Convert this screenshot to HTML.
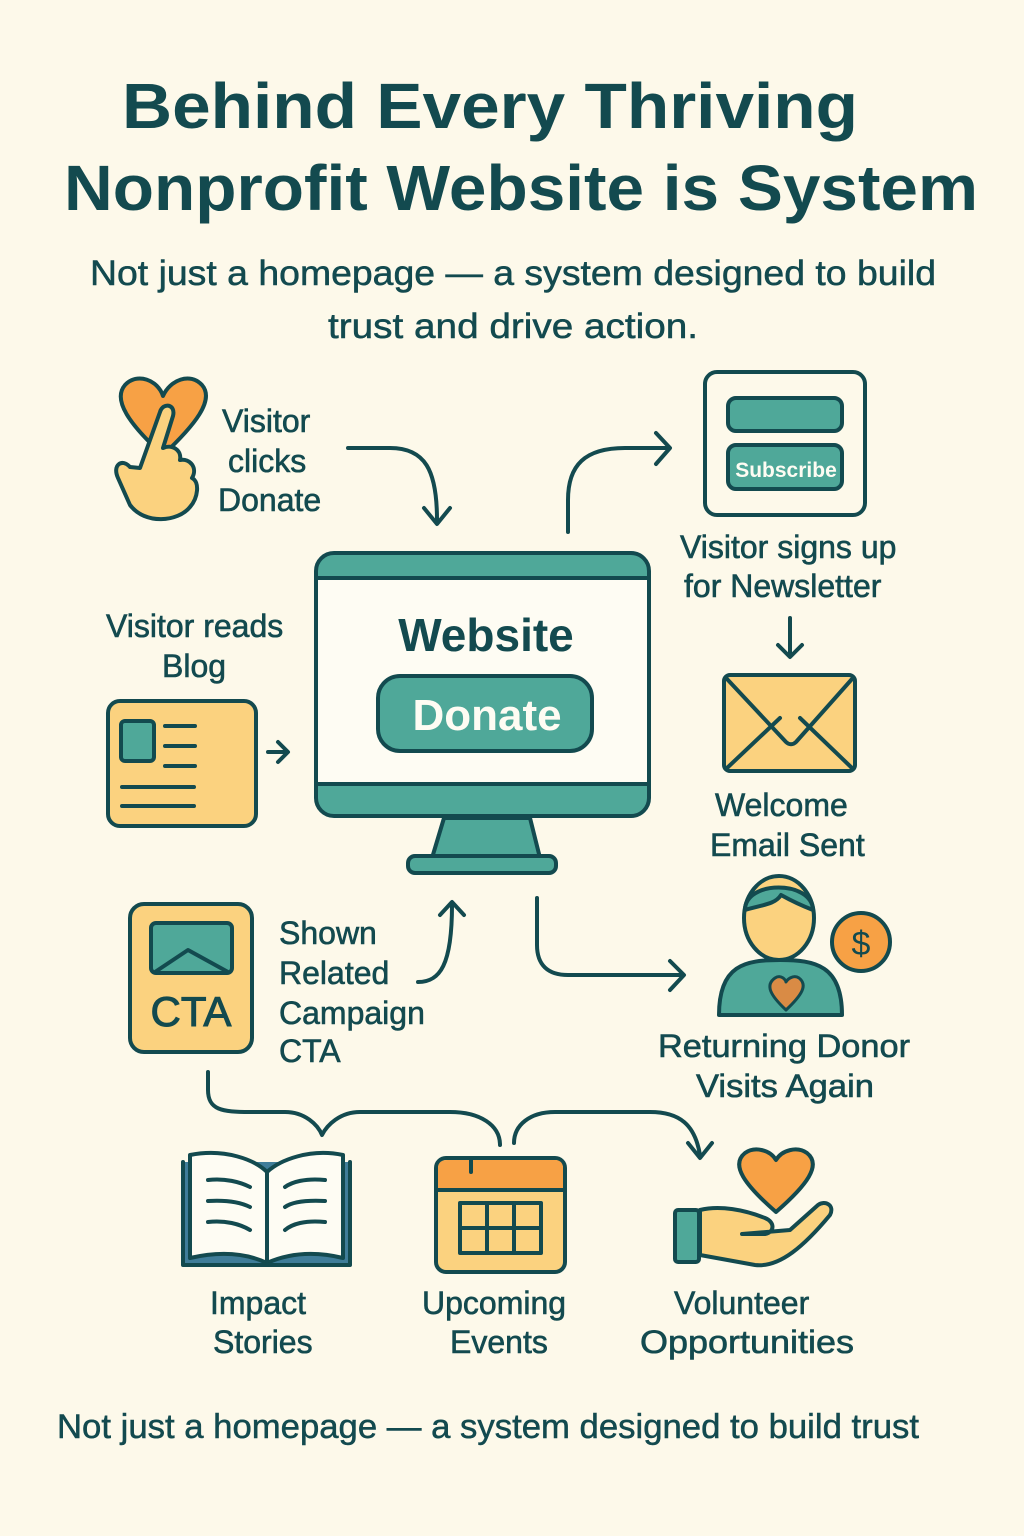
<!DOCTYPE html>
<html><head><meta charset="utf-8"><style>
html,body{margin:0;padding:0;background:#fdf9ea}
svg{display:block}
text{font-family:"Liberation Sans",sans-serif;fill:#134a4f}
</style></head><body>
<svg width="1024" height="1536" viewBox="0 0 1024 1536" xmlns="http://www.w3.org/2000/svg">
<rect width="1024" height="1536" fill="#fdf9ea"/>
<g font-weight="bold">
<text x="122" y="128" font-size="64" textLength="736" lengthAdjust="spacingAndGlyphs">Behind Every Thriving</text>
<text x="64" y="210" font-size="64" textLength="914" lengthAdjust="spacingAndGlyphs">Nonprofit Website is System</text>
</g>
<text x="90" y="285" font-size="35" textLength="846" lengthAdjust="spacingAndGlyphs" stroke="#134a4f" stroke-width="0.5">Not just a homepage — a system designed to build</text>
<text x="328" y="338" font-size="35" textLength="370" lengthAdjust="spacingAndGlyphs" stroke="#134a4f" stroke-width="0.5">trust and drive action.</text>

<g fill="none" stroke="#134a4f" stroke-width="4" stroke-linecap="round" stroke-linejoin="round">
<!-- hand heart -->
<path d="M163 455 C130 425 112 400 125 385 C137 372 158 380 163 396 C170 380 190 372 202 385 C215 400 195 425 163 455 Z" fill="#f7a145"/>
<path d="M140 468 L160 412 C163 402 176 404 173 416 L163 448 C172 444 182 450 180 460 C190 458 198 468 192 478 C200 482 198 498 190 507 C178 522 145 525 130 505 L118 478 C112 465 122 458 130 467 Z" fill="#fbd27f"/>
<!-- arrow 1 -->
<path d="M348 448 L390 448 C425 448 437 470 437 520 M424 508 L437 524 L450 508"/>
<!-- arrow up-right -->
<path d="M568 532 L568 500 C568 465 585 448 625 448 L668 448 M656 433 L670 448 L656 464"/>
<!-- subscribe box -->
<rect x="705" y="372" width="160" height="143" rx="12" fill="#fdf9ea"/>
<rect x="728" y="398" width="114" height="33" rx="8" fill="#4fa899"/>
<rect x="728" y="445" width="114" height="44" rx="8" fill="#4fa899"/>
<!-- arrow down to envelope -->
<path d="M790 618 L790 656 M778 645 L790 657 L802 645"/>
<!-- envelope -->
<rect x="724" y="675" width="131" height="96" rx="6" fill="#fbd27f"/>
<path d="M727 679 L786 742 C789 745 793 745 796 742 L852 679 M727 768 L780 718 M852 768 L800 718"/>
<!-- monitor -->
<rect x="316" y="553" width="333" height="263" rx="18" fill="#4fa899"/>
<rect x="316" y="578" width="333" height="206" fill="#fefcf3"/>
<path d="M322 578 L643 578 M322 784 L643 784"/>
<path d="M444 818 L530 818 L540 858 L432 858 Z" fill="#4fa899"/>
<rect x="408" y="856" width="148" height="17" rx="7" fill="#4fa899"/>
<rect x="378" y="676" width="214" height="75" rx="22" fill="#4fa899"/>
<!-- blog card -->
<rect x="108" y="701" width="148" height="125" rx="12" fill="#fbd27f"/>
<rect x="121" y="721" width="33" height="40" rx="4" fill="#4fa899"/>
<path d="M165 726 L195 726 M165 746 L195 746 M165 766 L195 766 M122 787 L194 787 M122 806 L194 806" stroke-width="4"/>
<path d="M210 752 L228 752 M220 742 L230 752 L220 762" transform="translate(58,0)"/>
<!-- CTA card -->
<rect x="130" y="904" width="122" height="148" rx="14" fill="#fbd27f"/>
<rect x="151" y="923" width="81" height="50" rx="5" fill="#4fa899"/>
<path d="M155 972 L188 950 L228 972"/>
<!-- arrow up from CTA -->
<path d="M418 982 C440 982 452 965 452 905 M440 915 L452 902 L464 915"/>
<!-- arrow to donor -->
<path d="M537 898 L537 945 C537 965 548 975 568 975 L682 975 M670 961 L684 975 L670 990"/>
<!-- donor -->
<path d="M719 1015 C719 965 745 960 780 960 C815 960 842 965 842 1015 Z" fill="#4fa899"/>
<ellipse cx="779" cy="918" rx="35" ry="42" fill="#fbd27f"/>
<path d="M745 910 C745 880 812 880 813 910 C800 905 790 900 781 895 C775 905 760 905 745 910 Z" fill="#4fa899"/>
<path d="M786 1010 C770 995 765 985 775 978 C781 974 786 980 786 982 C787 980 793 974 799 978 C808 985 802 995 786 1010 Z" fill="#d98b45" stroke-width="3"/>
<circle cx="861" cy="942" r="29" fill="#f7a145"/>
<!-- bottom connectors -->
<path d="M208 1072 L208 1090 C208 1110 222 1112 250 1112 L285 1112 C305 1112 318 1125 322 1135 C327 1125 340 1112 360 1112 L450 1112 C480 1112 500 1125 500 1145"/>
<path d="M514 1143 C514 1125 530 1112 555 1112 L650 1112 C680 1112 695 1125 700 1155 M688 1143 L700 1158 L712 1143"/>
<!-- book -->
<path d="M183 1162 L183 1265 L350 1265 L350 1162" fill="#3f7d99"/>
<path d="M190 1155 C225 1148 255 1160 267 1172 C280 1160 310 1148 343 1155 L343 1258 C310 1250 285 1255 267 1263 C250 1255 225 1250 190 1258 Z" fill="#fefcf3"/>
<path d="M267 1172 L267 1262"/>
<path d="M208 1180 C225 1178 240 1182 250 1187 M208 1201 C225 1200 240 1202 250 1207 M208 1222 C225 1220 240 1224 250 1230 M325 1180 C305 1178 292 1182 285 1187 M325 1201 C305 1200 292 1202 285 1207 M325 1222 C305 1220 292 1224 285 1230"/>
<!-- calendar -->
<rect x="436" y="1158" width="129" height="114" rx="10" fill="#fbd27f"/>
<path d="M438 1190 L438 1168 C438 1162 442 1160 448 1160 L555 1160 C561 1160 563 1164 563 1168 L563 1190 Z" fill="#f7a145" stroke="none"/>
<path d="M438 1190 L563 1190 M471 1160 L471 1172"/>
<rect x="460" y="1203" width="81" height="50" fill="#fbd27f"/>
<path d="M487 1203 L487 1253 M514 1203 L514 1253 M460 1228 L541 1228"/>
<!-- hand + heart -->
<path d="M776 1212 C745 1185 730 1165 745 1153 C755 1146 770 1150 776 1160 C782 1150 797 1146 807 1153 C822 1165 807 1185 776 1212 Z" fill="#f7a145"/>
<path d="M700 1210 C720 1205 745 1210 765 1218 C775 1222 775 1232 765 1234 L742 1234 L790 1230 L818 1205 C825 1200 835 1205 830 1215 C805 1245 780 1268 755 1265 L700 1255 Z" fill="#fbd27f"/>
<rect x="675" y="1210" width="24" height="52" rx="3" fill="#4fa899"/>
</g>
<text x="786" y="477" font-size="21" font-weight="bold" style="fill:#fefcf3" text-anchor="middle">Subscribe</text>
<text x="486" y="651" font-size="46" font-weight="bold" text-anchor="middle">Website</text>
<text x="487" y="730" font-size="44" font-weight="bold" text-anchor="middle" style="fill:#fefcf3">Donate</text>
<text x="191" y="1026" font-size="42" text-anchor="middle" stroke="#134a4f" stroke-width="1">CTA</text>
<text x="861" y="955" font-size="34" text-anchor="middle">$</text>
<g font-size="32" stroke="#134a4f" stroke-width="0.6">
<text x="222" y="432">Visitor</text>
<text x="228" y="472">clicks</text>
<text x="218" y="511">Donate</text>
<text x="106" y="637">Visitor reads</text>
<text x="162" y="677">Blog</text>
<text x="680" y="558">Visitor signs up</text>
<text x="684" y="597">for Newsletter</text>
<text x="715" y="816">Welcome</text>
<text x="710" y="856">Email Sent</text>
<text x="279" y="944">Shown</text>
<text x="279" y="984">Related</text>
<text x="279" y="1024">Campaign</text>
<text x="279" y="1062">CTA</text>
<text x="658" y="1057" textLength="252" lengthAdjust="spacingAndGlyphs">Returning Donor</text>
<text x="696" y="1097" textLength="178" lengthAdjust="spacingAndGlyphs">Visits Again</text>
<text x="210" y="1314">Impact</text>
<text x="213" y="1353">Stories</text>
<text x="422" y="1314">Upcoming</text>
<text x="450" y="1353">Events</text>
<text x="674" y="1314">Volunteer</text>
<text x="640" y="1353" textLength="214" lengthAdjust="spacingAndGlyphs">Opportunities</text>
</g>
<text x="57" y="1438" font-size="34" textLength="862" lengthAdjust="spacingAndGlyphs" stroke="#134a4f" stroke-width="0.5">Not just a homepage — a system designed to build trust</text>
</svg>
</body></html>
